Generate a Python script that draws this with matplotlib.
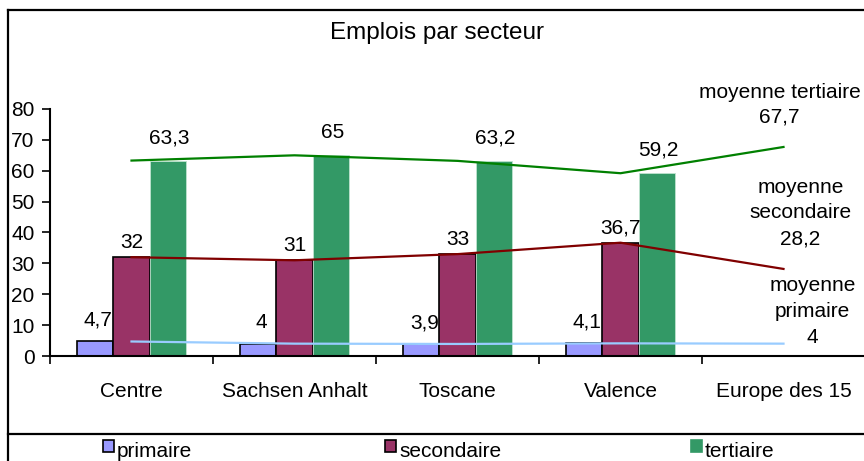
import matplotlib
matplotlib.use("Agg")
import matplotlib.pyplot as plt
from matplotlib.lines import Line2D
from matplotlib.patches import Rectangle
import numpy as np

plt.rcParams['font.family'] = ['Liberation Sans', 'DejaVu Sans']

# ---- data ----
title = "Emplois par secteur"
categories = ["Centre", "Sachsen Anhalt", "Toscane", "Valence", "Europe des 15"]
regions_n = 4
primaire = [4.7, 4.0, 3.9, 4.1]
secondaire = [32, 31, 33, 36.7]
tertiaire = [63.3, 65, 63.2, 59.2]
moy_primaire = 4
moy_secondaire = 28.2
moy_tertiaire = 67.7
series_names = ["primaire", "secondaire", "tertiaire"]
yticks = [0, 10, 20, 30, 40, 50, 60, 70, 80]

# ---- style ----
c_prim, c_sec, c_ter = "#9999FF", "#993366", "#339966"
l_prim, l_sec, l_ter = "#99CCFF", "#800000", "#008000"
W, H = 864, 461
fig = plt.figure(figsize=(W / 100, H / 100), dpi=100)

def fx(px):
    return px / W

def fy(py):
    return 1 - py / H

ax = fig.add_axes([fx(50), 105 / H, 815 / W, 247 / H])
ax.set_xlim(-0.5, 4.5)
ax.set_ylim(0, 80)

x = np.arange(regions_n)
bw = 0.222
ax.bar(x - bw, primaire, bw, color=c_prim, edgecolor="black", linewidth=1.2, zorder=2)
ax.bar(x, secondaire, bw, color=c_sec, edgecolor="black", linewidth=1.2, zorder=2)
ax.bar(x + bw, tertiaire, bw, color=c_ter, edgecolor="#bfe3cf", linewidth=0.6, zorder=2)

xl = np.arange(len(categories))
ax.plot(xl, primaire + [moy_primaire], color=l_prim, lw=1.6, zorder=3)
ax.plot(xl, secondaire + [moy_secondaire], color=l_sec, lw=1.6, zorder=3)
ax.plot(xl, tertiaire + [moy_tertiaire], color=l_ter, lw=1.6, zorder=3)

def fmt(v):
    s = ("%g" % v).replace(".", ",")
    return s

fs = 15
for i in range(regions_n):
    ax.annotate(fmt(primaire[i]), (x[i] - bw, primaire[i]), xytext=(3, 21),
                textcoords="offset pixels", ha="center", va="center", fontsize=fs, zorder=4)
    ax.annotate(fmt(secondaire[i]), (x[i], secondaire[i]), xytext=(0, 15),
                textcoords="offset pixels", ha="center", va="center", fontsize=fs, zorder=4)
    ax.annotate(fmt(tertiaire[i]), (x[i] + bw, tertiaire[i]), xytext=(2, 23),
                textcoords="offset pixels", ha="center", va="center", fontsize=fs, zorder=4)

ax.annotate("moyenne tertiaire\n" + fmt(moy_tertiaire), (4, moy_tertiaire), xytext=(-4, 42),
            textcoords="offset pixels", ha="center", va="center", fontsize=fs,
            linespacing=1.35, annotation_clip=False)
ax.annotate("moyenne\nsecondaire\n" + fmt(moy_secondaire), (4, moy_secondaire), xytext=(17, 56),
            textcoords="offset pixels", ha="center", va="center", fontsize=fs,
            linespacing=1.45, annotation_clip=False)
ax.annotate("moyenne\nprimaire\n" + fmt(moy_primaire), (4, moy_primaire), xytext=(29, 32),
            textcoords="offset pixels", ha="center", va="center", fontsize=fs,
            linespacing=1.45, annotation_clip=False)

for s in ["top", "right"]:
    ax.spines[s].set_visible(False)
for s in ["left", "bottom"]:
    ax.spines[s].set_linewidth(1.5)

ax.set_yticks(yticks)
ax.set_yticklabels([str(t) for t in yticks], fontsize=fs)
ax.tick_params(axis="y", length=6, width=1.2, pad=5)
ax.set_xticks(np.arange(-0.5, 4.5, 1.0))
ax.set_xticklabels([])
ax.tick_params(axis="x", which="major", length=6, width=1.2)
ax.set_xticks(xl, minor=True)
ax.set_xticklabels(categories, minor=True, fontsize=fs)
ax.tick_params(axis="x", which="minor", length=0, pad=19)

fig.text(fx(437), fy(33), title, ha="center", va="center", fontsize=17.5)

# outer frame
fig.add_artist(Line2D([fx(8), fx(8)], [fy(10), 0], color="black", lw=1.6, transform=fig.transFigure))
fig.add_artist(Line2D([fx(8), 1], [fy(10), fy(10)], color="black", lw=1.6, transform=fig.transFigure))
fig.add_artist(Line2D([fx(8), 1], [fy(434), fy(434)], color="black", lw=1.6, transform=fig.transFigure))

# legend
leg_x = [103, 385, 691]
leg_cols = [c_prim, c_sec, c_ter]
leg_edges = ["black", "black", c_ter]
for lx, col, ec, name in zip(leg_x, leg_cols, leg_edges, series_names):
    fig.add_artist(Rectangle((fx(lx), fy(452)), 11 / W, 12 / H, facecolor=col,
                             edgecolor=ec, lw=1.2, transform=fig.transFigure))
    fig.text(fx(lx + 14), fy(457), name, ha="left", va="baseline", fontsize=fs)

fig.savefig("out.png", dpi=100)
